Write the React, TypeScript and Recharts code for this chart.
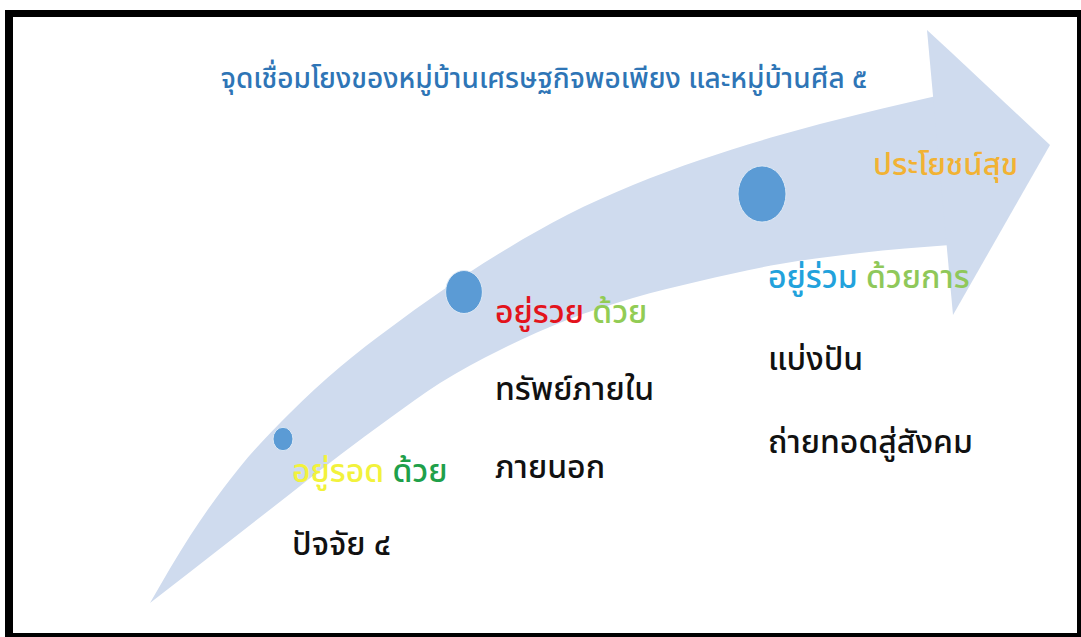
import { ComposedChart, Area, Scatter, XAxis, YAxis, ZAxis } from 'recharts'

// diagram space = pixel space of the 1081x637 picture
const W = 1081
const H = 637

// curved arrow shaft, upper and lower edge
const shaftX = [150, 190, 240, 290, 340, 390, 440, 500, 567, 633, 700, 780, 860, 950]
const shaftUpper = [603, 536, 467, 413, 367, 328, 292, 253, 215, 185, 160, 135, 114, 93]
const shaftLower = [603, 572, 533, 494, 455, 418, 383, 350, 320, 298, 281, 264, 253, 245]

// arrow head
const headX = [927, 953, 1050]
const headUpper = [30, 54, 145]
const headLower = [30, 315, 145]

// the three stages
const stageX = [283, 464, 762]
const stageY = [439, 292, 194]
const stageLevel = [1, 2, 3]

const titleText = 'จุดเชื่อมโยงของหมู่บ้านเศรษฐกิจพอเพียง และหมู่บ้านศีล ๕'
const titlePos = [544, 88]
const goalText = 'ประโยชน์สุข'
const goalPos = [873, 175]

const stageWord = ['อยู่รอด', 'อยู่รวย', 'อยู่ร่วม']
const stageHow = ['ด้วย', 'ด้วย', 'ด้วยการ']
const stageTextX = [292, 495, 768]
const stageTextY = [482, 323, 288]
const stageLines = [['ปัจจัย ๔'], ['ทรัพย์ภายใน', 'ภายนอก'], ['แบ่งปัน', 'ถ่ายทอดสู่สังคม']]
const stageLinesY = [[555], [400, 478], [370, 453]]

const FONT = "'Noto Sans Thai', 'Noto Sans', 'DejaVu Sans', sans-serif"
const ARROW = '#CFDBEE'
const DOT = '#5B9BD5'
const WORD_COLORS = ['#F2F23C', '#E3131C', '#22A2DC']
const HOW_COLORS = ['#1FA04A', '#92CC55', '#8FC85A']

const shaft = shaftX.map((x, i) => ({ x, range: [shaftLower[i], shaftUpper[i]] }))
const head = headX.map((x, i) => ({ x, range: [headLower[i], headUpper[i]] }))
const stages = stageX.map((x, i) => ({ x, y: stageY[i], z: stageLevel[i] }))

type Label = { x: number; y: number; kind: string; parts: { t: string; c: string }[] }
const labels: Label[] = [
  { x: titlePos[0], y: titlePos[1], kind: 'title', parts: [{ t: titleText, c: '#2E75B6' }] },
  { x: goalPos[0], y: goalPos[1], kind: 'goal', parts: [{ t: goalText, c: '#F2B233' }] },
]
stageWord.forEach((w, i) => {
  labels.push({
    x: stageTextX[i],
    y: stageTextY[i],
    kind: 'head',
    parts: [
      { t: w, c: WORD_COLORS[i] },
      { t: ' ' + stageHow[i], c: HOW_COLORS[i] },
    ],
  })
  stageLines[i].forEach((t, j) => {
    labels.push({ x: stageTextX[i], y: stageLinesY[i][j], kind: 'body', parts: [{ t, c: '#111111' }] })
  })
})

const Dot = (props: any) => {
  const r = Math.sqrt((props.size ?? 314) / Math.PI)
  return <ellipse cx={props.cx} cy={props.cy} rx={r} ry={r * 1.17} fill={DOT} stroke="#DCE8F5" strokeWidth={1} />
}

const Text = (props: any) => {
  const p: Label = props.payload
  const title = p.kind === 'title'
  return (
    <text
      x={props.cx}
      y={props.cy}
      textAnchor={title ? 'middle' : 'start'}
      fontFamily={FONT}
      fontSize={title ? 28 : p.kind === 'goal' ? 31 : 32}
      fontWeight={500}
    >
      {p.parts.map((s, i) => (
        <tspan key={i} fill={s.c}>
          {s.t}
        </tspan>
      ))}
    </text>
  )
}

export default function App() {
  return (
    <div style={{ position: 'fixed', left: 0, top: 0, width: W, height: H, overflow: 'hidden', background: '#fff' }}>
      <ComposedChart width={W} height={H} margin={{ top: 0, right: 0, bottom: 0, left: 0 }}>
        <XAxis type="number" dataKey="x" domain={[0, W]} hide allowDataOverflow />
        <YAxis type="number" domain={[0, H]} reversed hide allowDataOverflow />
        <ZAxis type="number" dataKey="z" domain={[1, 3]} range={[314, 1810]} />
        <Area
          data={shaft}
          dataKey="range"
          type="monotone"
          fill={ARROW}
          fillOpacity={1}
          stroke="none"
          dot={false}
          activeDot={false}
          isAnimationActive={false}
        />
        <Area
          data={head}
          dataKey="range"
          type="linear"
          fill={ARROW}
          fillOpacity={1}
          stroke="none"
          dot={false}
          activeDot={false}
          isAnimationActive={false}
        />
        <Scatter data={stages} dataKey="y" shape={<Dot />} isAnimationActive={false} />
        <Scatter data={labels} dataKey="y" shape={<Text />} isAnimationActive={false} />
      </ComposedChart>
      <div
        style={{
          position: 'absolute',
          left: 5,
          top: 10,
          width: W - 5,
          height: H - 10,
          boxSizing: 'border-box',
          borderStyle: 'solid',
          borderColor: '#000',
          borderWidth: '7px 4px 4px 8px',
          pointerEvents: 'none',
        }}
      />
    </div>
  )
}
